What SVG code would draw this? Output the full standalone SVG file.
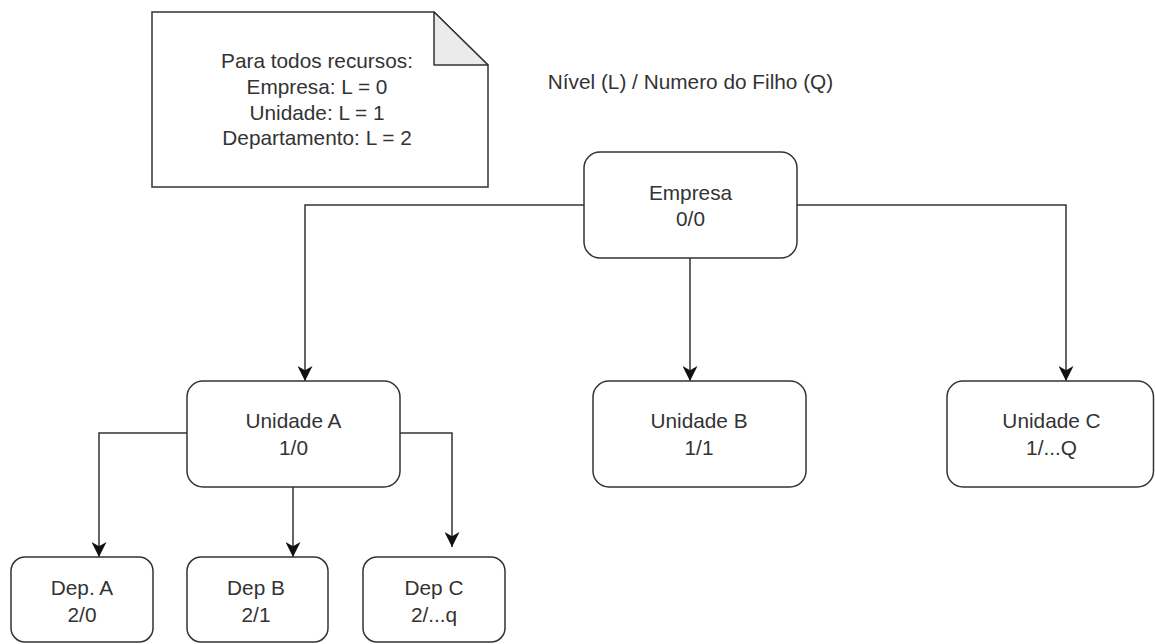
<svg xmlns="http://www.w3.org/2000/svg" width="1155" height="644" viewBox="0 0 1155 644">
<style>
  .box { fill: #ffffff; stroke: #333333; stroke-width: 1.5; }
  .t { font-family: "Liberation Sans", Arial, sans-serif; font-size: 20.8px; fill: #333333; text-anchor: middle; }
  .edge { fill: none; stroke: #333333; stroke-width: 1.5; marker-end: url(#arrow); }
</style>
<defs>
  <marker id="arrow" viewBox="0 0 14 14" refX="14" refY="7" markerWidth="15" markerHeight="15" markerUnits="userSpaceOnUse" orient="auto">
    <path d="M0,0 L14,7 L0,14 L4,7 Z" fill="#111111"/>
  </marker>
</defs>
<rect width="1155" height="644" fill="#ffffff"/>

<g id="note">
  <path d="M152,12 H434 L488,65 V187 H152 Z" class="box"/>
  <path d="M434,12 V65 H488 Z" fill="#ebebeb" stroke="#333333" stroke-width="1.5" stroke-linejoin="round"/>
  <text class="t" x="317" y="68">Para todos recursos:</text>
  <text class="t" x="317" y="94">Empresa: L = 0</text>
  <text class="t" x="317" y="119.5">Unidade: L = 1</text>
  <text class="t" x="317" y="145">Departamento: L = 2</text>
</g>

<g id="legend">
  <text class="t" x="690.5" y="89">Nível (L) / Numero do Filho (Q)</text>
</g>

<g id="connectors">
  <path class="edge" d="M584,205 H305 V381"/>
  <path class="edge" d="M690,258 V381"/>
  <path class="edge" d="M797,205 H1066 V381"/>
  <path class="edge" d="M187,433 H99 V557"/>
  <path class="edge" d="M293,487 V557"/>
  <path class="edge" d="M400,433 H452 V547"/>
</g>

<g id="empresa">
  <rect class="box" x="584" y="152" width="213" height="106" rx="16"/>
  <text class="t" x="690.5" y="200">Empresa</text>
  <text class="t" x="690.5" y="226">0/0</text>
</g>

<g id="unidadeA">
  <rect class="box" x="187" y="381" width="213" height="106" rx="16"/>
  <text class="t" x="293.5" y="428">Unidade A</text>
  <text class="t" x="293.5" y="455">1/0</text>
</g>

<g id="unidadeB">
  <rect class="box" x="593" y="381" width="213" height="106" rx="16"/>
  <text class="t" x="699" y="428">Unidade B</text>
  <text class="t" x="699" y="455">1/1</text>
</g>

<g id="unidadeC">
  <rect class="box" x="947" y="381" width="206.5" height="106" rx="16"/>
  <text class="t" x="1051.5" y="428">Unidade C</text>
  <text class="t" x="1051.5" y="455">1/...Q</text>
</g>

<g id="depA">
  <rect class="box" x="11" y="557" width="142" height="85" rx="14"/>
  <text class="t" x="82" y="595">Dep. A</text>
  <text class="t" x="82" y="622">2/0</text>
</g>

<g id="depB">
  <rect class="box" x="187" y="557" width="141" height="85" rx="14"/>
  <text class="t" x="256" y="595">Dep B</text>
  <text class="t" x="256" y="622">2/1</text>
</g>

<g id="depC">
  <rect class="box" x="363" y="557" width="142" height="85" rx="14"/>
  <text class="t" x="434" y="595">Dep C</text>
  <text class="t" x="434" y="622">2/...q</text>
</g>
</svg>
